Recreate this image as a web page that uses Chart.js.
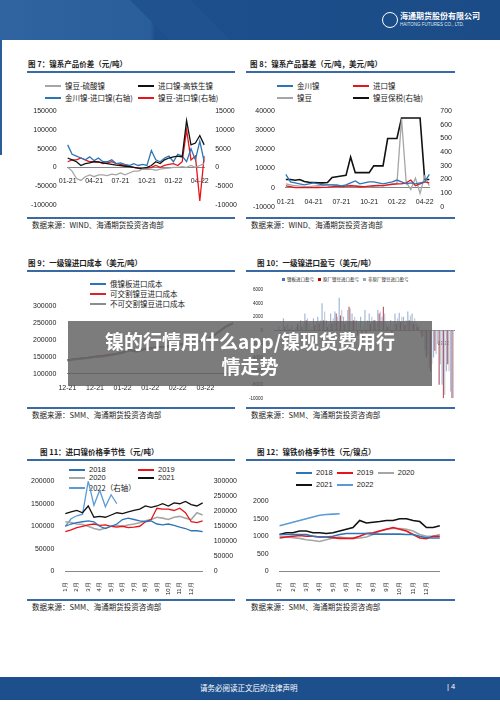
<!DOCTYPE html>
<html><head><meta charset="utf-8">
<script src="https://cdn.jsdelivr.net/npm/chart.js@4"></script>
<style>
body{margin:0;width:500px;height:707px;position:relative;background:#fff;overflow:hidden;font-family:"Liberation Sans",Arial,sans-serif}
.abs{position:absolute}
.t{position:absolute;font:bold 7.5px "Noto Sans CJK SC";color:#222;white-space:nowrap}
.rule{position:absolute;height:2px;background:#3a6aa3}
.lg{position:absolute;font:7.5px "Noto Sans CJK SC";color:#222;white-space:nowrap;display:flex;align-items:center}
.lg i{display:inline-block;width:16px;height:2px;margin-right:4px}
canvas{position:absolute}
</style></head><body>
<div class="abs" style="left:0;top:0;width:500px;height:40px;background:linear-gradient(90deg,#2f64a0 0%,#2a5e9b 30%,#1c4f8c 31%,#1b4c88 100%)"></div>
<div class="abs" style="left:150px;top:0;width:60px;height:40px;background:#1f528f;transform:skewX(45deg)"></div>
<div class="abs" style="left:400px;top:10px;color:#fff;font:bold 8px 'Noto Sans CJK SC'">海通期货股份有限公司</div>
<div class="abs" style="left:400px;top:22px;color:#dfe8f4;font:4.5px 'Liberation Sans'">HAITONG FUTURES CO., LTD.</div>
<div class="abs" style="left:382px;top:12px;width:14px;height:14px;border-radius:50%;border:1.5px solid #fff"></div>
<div class="abs" style="left:0;top:40px;width:2px;height:115px;background:#2a5e9b"></div>

<div class="t" style="left:28px;top:58px">图 7：镍系产品价差（元/吨）</div><div class="rule" style="left:27px;top:71px;width:208px"></div>
<div class="t" style="left:250px;top:58px">图 8：镍系产品基差（元/吨，美元/吨）</div><div class="rule" style="left:246px;top:71px;width:209px"></div>
<div class="t" style="left:28px;top:257px">图 9：一级镍进口成本（美元/吨）</div><div class="rule" style="left:27px;top:270px;width:208px"></div>
<div class="t" style="left:257px;top:257px">图 10：一级镍进口盈亏（美元/吨）</div><div class="rule" style="left:246px;top:270px;width:209px"></div>
<div class="t" style="left:40px;top:446px">图 11：进口镍价格季节性（元/吨）</div><div class="rule" style="left:27px;top:459px;width:208px"></div>
<div class="t" style="left:257px;top:446px">图 12：镍铁价格季节性（元/镍点）</div><div class="rule" style="left:246px;top:459px;width:209px"></div>

<div class="rule" style="left:27px;top:217px;width:208px"></div><div class="t" style="left:32px;top:219px;font-weight:normal">数据来源：WIND、海通期货投资咨询部</div>
<div class="rule" style="left:246px;top:217px;width:209px"></div><div class="t" style="left:251px;top:219px;font-weight:normal">数据来源：WIND、海通期货投资咨询部</div>
<div class="rule" style="left:27px;top:407px;width:208px"></div><div class="t" style="left:32px;top:409px;font-weight:normal">数据来源：SMM、海通期货投资咨询部</div>
<div class="rule" style="left:246px;top:407px;width:209px"></div><div class="t" style="left:251px;top:409px;font-weight:normal">数据来源：SMM、海通期货投资咨询部</div>
<div class="rule" style="left:27px;top:599px;width:208px"></div><div class="t" style="left:32px;top:601px;font-weight:normal">数据来源：SMM、海通期货投资咨询部</div>
<div class="rule" style="left:246px;top:599px;width:209px"></div><div class="t" style="left:251px;top:601px;font-weight:normal">数据来源：SMM、海通期货投资咨询部</div>

<div class="lg" style="left:45px;top:80px"><i style="background:#a6a6a6"></i>镍豆-硫酸镍</div>
<div class="lg" style="left:138px;top:80px"><i style="background:#111"></i>进口镍-高铁生镍</div>
<div class="lg" style="left:45px;top:92px"><i style="background:#2e75b6"></i>金川镍-进口镍(右轴)</div>
<div class="lg" style="left:138px;top:92px"><i style="background:#e8141a"></i>镍豆-进口镍(右轴)</div>
<div class="lg" style="left:277px;top:80px"><i style="background:#2e75b6"></i>金川镍</div>
<div class="lg" style="left:353px;top:80px"><i style="background:#e8141a"></i>进口镍</div>
<div class="lg" style="left:277px;top:92px"><i style="background:#a6a6a6"></i>镍豆</div>
<div class="lg" style="left:353px;top:92px"><i style="background:#111"></i>镍豆保税(右轴)</div>
<div class="lg" style="left:90px;top:278px"><i style="background:#2e75b6"></i>俄镍板进口成本</div>
<div class="lg" style="left:90px;top:288px"><i style="background:#d62728"></i>可交割镍豆进口成本</div>
<div class="lg" style="left:90px;top:298px"><i style="background:#8c8c8c"></i>不可交割镍豆进口成本</div>
<div class="lg" style="left:282px;top:276px;font-size:4.5px"><i style="width:3px;height:3px;background:#4472c4;margin-right:2px"></i>镍板进口盈亏&nbsp;&nbsp;&nbsp;&nbsp;<i style="width:3px;height:3px;background:#c00000;margin-right:2px"></i>原厂镍豆进口盈亏&nbsp;&nbsp;&nbsp;&nbsp;<i style="width:3px;height:3px;background:#a5a5a5;margin-right:2px"></i>非原厂镍豆进口盈亏</div>
<div class="lg" style="left:69px;top:465px;font-family:'Liberation Sans'"><i style="background:#2e75b6"></i>2018</div>
<div class="lg" style="left:138px;top:465px;font-family:'Liberation Sans'"><i style="background:#e8141a"></i>2019</div>
<div class="lg" style="left:69px;top:473px;font-family:'Liberation Sans'"><i style="background:#a6a6a6"></i>2020</div>
<div class="lg" style="left:138px;top:473px;font-family:'Liberation Sans'"><i style="background:#111"></i>2021</div>
<div class="lg" style="left:69px;top:482px"><i style="background:#5b9bd5"></i>2022（右轴）</div>
<div class="lg" style="left:296px;top:468px;font-family:'Liberation Sans'"><i style="background:#2e75b6"></i>2018&nbsp;&nbsp;<i style="background:#e8141a"></i>2019&nbsp;&nbsp;<i style="background:#a6a6a6"></i>2020</div>
<div class="lg" style="left:296px;top:480px;font-family:'Liberation Sans'"><i style="background:#111"></i>2021&nbsp;&nbsp;<i style="background:#5b9bd5"></i>2022</div>

<canvas id="c7" style="left:28px;top:104px" width="212" height="108"></canvas>
<canvas id="c8" style="left:250px;top:104px" width="205" height="110"></canvas>
<canvas id="c9" style="left:30px;top:299px" width="205" height="95"></canvas>
<canvas id="c10" style="left:246px;top:284px" width="209" height="120"></canvas>
<canvas id="c11" style="left:28px;top:474px" width="212" height="124"></canvas>
<canvas id="c12" style="left:250px;top:494px" width="200" height="104"></canvas>

<div class="abs" style="left:68px;top:321px;width:364px;height:65px;background:rgba(95,95,95,0.82);color:#fff;font:bold 19px 'Noto Sans CJK SC';text-align:center;line-height:25px;padding-top:7px;box-sizing:border-box">镍的行情用什么app/镍现货费用行<br>情走势</div>

<div class="abs" style="left:0;top:677px;width:500px;height:23px;background:#1d4f8c"></div>
<div class="abs" style="left:200px;top:682px;color:#fff;font:7.5px 'Noto Sans CJK SC'">请务必阅读正文后的法律声明</div>
<div class="abs" style="left:447px;top:682px;color:#fff;font:7.5px 'Liberation Sans'">| 4</div>

<script>
// ---------- data ----------
const cats7 = ['01-21','','','','','','04-21','','','','','','07-21','','','','','','10-21','','','','','','01-22','','','','','','04-22',''];
const s7_nbLiusuan = [0,-10000,-30000,-35000,-25000,-20000,-25000,-20000,-20000,-22000,-18000,-20000,-15000,-20000,-15000,-10000,-10000,-5000,-5000,-5000,-8000,-5000,-3000,-2000,0,0,2000,0,5000,0,5000,10000];
const s7_jkGaotie = [25000,20000,15000,5000,10000,12000,15000,14000,12000,10000,8000,6000,5000,3000,2000,0,-2000,-3000,0,5000,15000,10000,20000,25000,28000,30000,28000,125000,60000,65000,85000,60000];
const s7_jcJk = [6000,3500,3000,2500,2000,2800,1800,2500,1500,1500,2000,1000,1200,800,500,1000,500,800,500,4500,2000,1500,2500,3000,1500,3500,3000,1500,5000,2000,7000,1500];
const s7_ndJk = [1500,2000,2000,2500,2000,1500,1500,1500,1000,1200,1500,1000,800,500,300,0,-200,-500,-300,0,500,0,500,800,1000,500,1500,10000,2000,3000,-9000,3000];

const cats8 = cats7;
const s8_jc = [7000,3000,2500,2000,1500,2000,2500,2000,1500,1500,1500,1500,1000,1500,2500,3500,2000,2500,3000,3000,2500,2000,2500,3000,4000,3000,2000,2500,2000,2500,3000,7000];
const s8_jk = [1000,500,0,0,0,0,0,100,200,300,500,800,600,800,1000,800,500,600,800,1000,1200,1000,1500,1800,2000,2000,2500,4000,1000,2000,3000,2500];
const s8_nd = [2000,1500,1000,800,500,500,800,1000,1200,1500,1500,1000,800,1000,1200,1000,800,600,500,800,1000,1200,1500,1800,2000,36000,3000,-1000,5000,-3000,6000,1000];
const s8_ndBs = [200,200,195,200,185,180,178,175,175,178,215,220,225,230,365,250,250,250,250,300,300,300,500,500,500,650,650,650,650,650,200,200];

const cats9 = ['12-21','','','','12-21','','','','01-22','','','','01-22','','','','02-22','','','','03-22','','','',''];
const s9_ejb = [140000,143000,145000,147000,150000,152000,155000,158000,163000,170000,166000,172000,175000,178000,180000,183000,186000,188000,192000,196000,200000,210000,225000,240000,250000];
const s9_kjg = [141000,144000,146000,148000,151000,153000,156000,159000,164000,171000,167000,173000,176000,179000,181000,184000,187000,189000,193000,197000,201000,211000,226000,241000,251000];
const s9_bkjg = [139000,142000,144000,146000,149000,151000,154000,157000,162000,169000,165000,171000,174000,177000,179000,182000,185000,187000,191000,195000,199000,209000,224000,239000,249000];

const cats10 = ['','','','','','','','','','','','','','','','','','','','','','','','','','','','','','','','','','','','','','','','03/22','',''];
const s10_ban = [0,500,1800,1000,800,500,1500,2500,1000,1800,2000,4000,1500,2500,2800,4800,2000,3000,2500,1500,2000,3000,2500,1500,3000,2000,1000,1500,2500,2600,2000,2800,2500,1000,-500,-3000,-5500,-4000,-2000,-8000,-6000,-9000];
const s10_yc = [0,0,500,200,0,1000,500,1500,0,800,1000,1500,500,1000,2500,2200,1000,3500,1500,-800,-2000,-500,1000,1500,2500,3500,500,-500,1000,1200,800,1500,1000,500,-1000,-4000,-6000,-3000,-8000,-10000,-5000,-10000];
const s10_fyc = [0,200,800,500,300,800,1000,1800,500,1200,1500,2800,1000,1800,2000,3000,1500,3200,2000,1000,500,1500,2000,1000,2800,2500,800,1000,1800,2000,1500,2200,1800,800,-800,-3500,-5000,-3500,-5000,-9500,-6000,-10000];

const cats11 = ['1月','','2月','','3月','','4月','','5月','','6月','','7月','','8月','','9月','','10月','','11月','','12月','',''];
const s11_2018 = [100000,105000,108000,110000,112000,110000,100000,95000,100000,105000,115000,118000,115000,112000,110000,112000,105000,103000,105000,102000,98000,95000,90000,90000,88000];
const s11_2019 = [88000,92000,97000,100000,103000,105000,102000,103000,100000,98000,100000,97000,98000,100000,110000,115000,140000,138000,138000,135000,140000,130000,110000,108000,112000];
const s11_2020 = [110000,108000,105000,104000,100000,95000,92000,96000,100000,102000,100000,103000,105000,108000,112000,115000,120000,118000,115000,120000,122000,118000,115000,130000,125000];
const s11_2021 = [128000,132000,135000,130000,145000,120000,122000,120000,125000,130000,128000,132000,135000,138000,145000,142000,145000,150000,145000,152000,150000,155000,148000,145000,152000];
const s11_2022 = [150000,175000,185000,190000,300000,220000,270000,215000,255000,225000];

const cats12 = cats11;
const s12_2018 = [1050,1050,1050,1050,1050,1000,980,980,1000,1050,1080,1080,1080,1080,1060,1060,1060,1060,1060,1050,1050,1000,960,950,950];
const s12_2019 = [950,980,1000,1020,1000,1000,980,980,960,940,940,940,1000,1080,1100,1150,1200,1250,1200,1150,1050,950,930,1000,1000];
const s12_2020 = [1000,980,960,940,900,880,850,900,950,980,950,940,950,980,1050,1150,1200,1220,1220,1200,1150,1050,1000,1000,1050];
const s12_2021 = [1050,1100,1100,1150,1150,1100,1100,1080,1100,1150,1200,1250,1450,1380,1400,1420,1450,1450,1500,1500,1450,1420,1250,1250,1300];
const s12_2022 = [1300,1350,1400,1450,1500,1550,1600,1620,1630,1640];

// ---------- helpers ----------
Chart.defaults.font.family = "'Liberation Sans', Arial";
Chart.defaults.font.size = 7;
Chart.defaults.color = '#222';
Chart.defaults.animation = false;
const plain = v => String(v);
const ln = (data, color, axis, w) => ({data, borderColor: color, backgroundColor: color, borderWidth: w||1.3, pointRadius: 0, tension: 0, yAxisID: axis||'y', spanGaps: false});
const noGrid = {display: false};
const tk = (min, max, step, extra) => Object.assign({min, max, ticks: {stepSize: step, padding: 3, callback: plain}, grid: noGrid, border: {display: false}}, extra||{});
const xAx = (extra) => Object.assign({grid: noGrid, border: {color: '#888'}, ticks: {autoSkip: false, maxRotation: 0, padding: 2}}, extra||{});
const base = {responsive: false, plugins: {legend: {display: false}, tooltip: {enabled: false}}, layout: {padding: 0}};
function mk(id, type, labels, datasets, scales) {
  new Chart(document.getElementById(id), {type, data: {labels, datasets}, options: Object.assign({}, base, {scales})});
}

mk('c7', 'line', cats7, [
  ln(s7_nbLiusuan, '#a6a6a6'), ln(s7_jkGaotie, '#111'), ln(s7_jcJk, '#2e75b6', 'y1'), ln(s7_ndJk, '#e8141a', 'y1')
], {x: xAx({position: {y: 0}}), y: tk(-100000, 150000, 50000), y1: tk(-10000, 15000, 5000, {position: 'right'})});

mk('c8', 'line', cats8, [
  ln(s8_jc, '#2e75b6'), ln(s8_jk, '#e8141a'), ln(s8_nd, '#a6a6a6'), ln(s8_ndBs, '#111', 'y1', 1.6)
], {x: xAx({position: {y: 0}}), y: tk(-10000, 40000, 10000), y1: tk(0, 700, 100, {position: 'right'})});

mk('c9', 'line', cats9, [
  ln(s9_bkjg, '#8c8c8c', 'y', 2), ln(s9_kjg, '#d62728'), ln(s9_ejb, '#2e75b6')
], {x: xAx(), y: tk(100000, 300000, 50000)});

new Chart(document.getElementById('c10'), {type: 'bar', data: {labels: cats10, datasets: [
  {data: s10_ban, backgroundColor: '#9fb6d8', categoryPercentage: 0.9, barPercentage: 0.9},
  {data: s10_yc, backgroundColor: '#b05a6a', categoryPercentage: 0.9, barPercentage: 0.9},
  {data: s10_fyc, backgroundColor: '#c8c8c8', categoryPercentage: 0.9, barPercentage: 0.9}
]}, options: Object.assign({}, base, {scales: {
  x: xAx({position: {y: 0}, ticks: {autoSkip: false, maxRotation: 0, font: {size: 4.5}}}),
  y: {min: -10000, max: 6000, ticks: {stepSize: 2000, font: {size: 4.5}, callback: plain}, grid: noGrid, border: {display: false}}
}})});

mk('c11', 'line', cats11, [
  ln(s11_2018, '#2e75b6'), ln(s11_2019, '#e8141a'), ln(s11_2020, '#a6a6a6', 'y', 1.6), ln(s11_2021, '#111'), ln(s11_2022, '#5b9bd5', 'y1')
], {x: xAx({ticks: {autoSkip: false, minRotation: 90, maxRotation: 90, font: {size: 6}}}), y: tk(0, 200000, 50000), y1: tk(0, 300000, 50000, {position: 'right'})});

mk('c12', 'line', cats12, [
  ln(s12_2018, '#2e75b6', 'y', 1.6), ln(s12_2019, '#e8141a', 'y', 1.6), ln(s12_2020, '#a6a6a6', 'y', 1.6), ln(s12_2021, '#111', 'y', 1.6), ln(s12_2022, '#5b9bd5', 'y', 1.6)
], {x: xAx({ticks: {autoSkip: false, minRotation: 90, maxRotation: 90, font: {size: 6}}}), y: tk(0, 2000, 500)});
</script>
</body></html>
